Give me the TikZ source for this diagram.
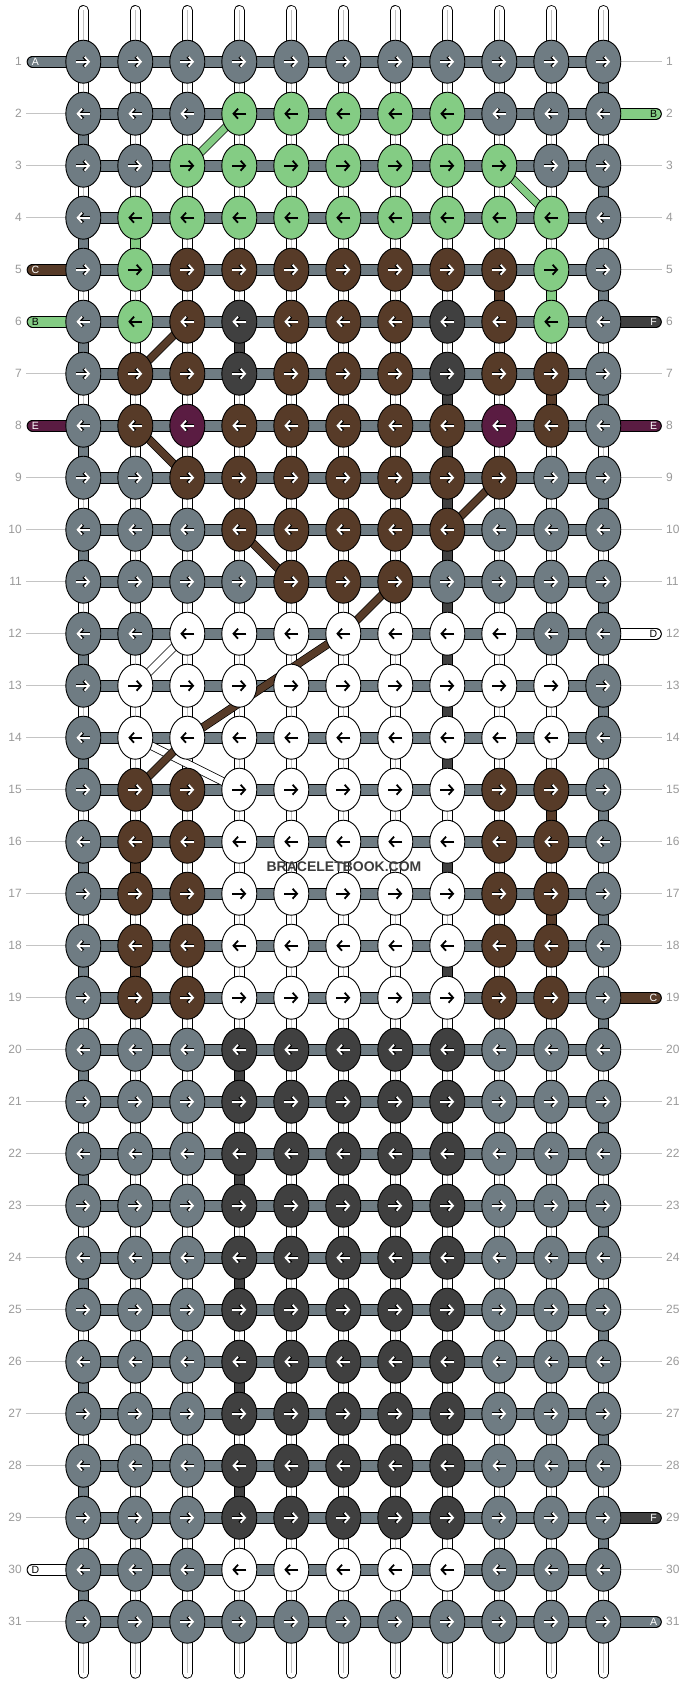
\documentclass[tikz,border=0pt]{standalone}
\usepackage{fontspec}
\setmainfont{Liberation Sans}
\usetikzlibrary{shapes.geometric,arrows.meta}
\definecolor{kG}{HTML}{6F7C83}
\definecolor{kL}{HTML}{84CC84}
\definecolor{kB}{HTML}{573B28}
\definecolor{kK}{HTML}{404040}
\definecolor{kP}{HTML}{5A1C42}
\definecolor{kW}{HTML}{FFFFFF}
\colorlet{aG}{white}\colorlet{aL}{black}\colorlet{aB}{white}
\colorlet{aK}{white}\colorlet{aP}{white}\colorlet{aW}{black}
\colorlet{oG}{black}\colorlet{oL}{kL}\colorlet{oB}{black}
\colorlet{oK}{black}\colorlet{oP}{black}\colorlet{oW}{white}
\definecolor{lbl}{HTML}{9A9A9A}
\definecolor{lnc}{HTML}{C4C4C4}
\definecolor{ctr}{HTML}{C2C2C2}
\definecolor{wmk}{HTML}{3C3C3C}
\begin{document}
\begin{tikzpicture}[x=1pt,y=-1pt,
 knot/.style={ellipse,draw=black,line width=0.9pt,minimum width=35pt,minimum height=43pt,inner sep=0pt},
 hstr/.style={draw=black,line width=1pt,double=#1,double distance=9.7pt},
 vseg/.style={draw=black,line width=0.9pt,double=#1,double distance=8.9pt},
 ctrline/.style={draw=ctr,line width=1.1pt},
 diag/.style={draw=black,line width=0.7pt,double=#1,double distance=7pt,line join=round},
 lead/.style={draw=lnc,line width=1pt},
 rowno/.style={text=lbl,font=\fontsize{12}{12}\selectfont,inner sep=0pt},
 stubtxt/.style={font=\fontsize{10.5}{10.5}\selectfont,inner sep=0pt},
 arrline/.style={line width=#1,-{Straight Barb[length=4.5pt,width=10pt]}}
]
\fill[white] (0,0) rectangle (688,1684);
\useasboundingbox (0,0) rectangle (688,1684);
% grid coordinates
\foreach \r in {1,...,31}{\foreach \c in {1,...,11}{
  \coordinate (p-\r-\c) at ({83.3+52*(\c-1)},{61.7+52*(\r-1)});}}
% leader lines
\foreach \r in {2,3,4,7,9,10,11,12,13,14,15,16,17,18,19,20,21,22,23,24,25,26,27,28,29,31}{
  \pgfmathsetmacro\yy{61.7+52*(\r-1)}
  \coordinate (ll-\r) at (26,\yy);
  \draw[lead] (ll-\r) -- (p-\r-1);}
\foreach \r in {1,3,4,5,7,9,10,11,13,14,15,16,17,18,20,21,22,23,24,25,26,27,28,30}{
  \pgfmathsetmacro\yy{61.7+52*(\r-1)}
  \coordinate (lr-\r) at (662,\yy);
  \draw[lead] (p-\r-11) -- (lr-\r);}
% vertical strands top and bottom
\foreach \c in {1,...,11}{
  \coordinate (t-\c) at ({83.3+52*(\c-1)},10.4);
  \coordinate (b-\c) at ({83.3+52*(\c-1)},1673.3);
  \draw[vseg=white,line cap=round] (t-\c) -- (p-1-\c);
  \draw[ctrline] (t-\c) -- (p-1-\c);
  \draw[vseg=white,line cap=round] (p-31-\c) -- (b-\c);
  \draw[ctrline] (p-31-\c) -- (b-\c);}
% gaps between rows
\foreach \r in {1,...,30}{\pgfmathtruncatemacro\rr{\r+1}
  \foreach \c in {1,...,11}{
    \draw[vseg=white] (p-\r-\c) -- (p-\rr-\c);
    \draw[ctrline] (p-\r-\c) -- (p-\rr-\c);}}
\foreach \r in {1,3,...,29}{\pgfmathtruncatemacro\rr{\r+1}
  \draw[vseg=kG] (p-\r-11) -- (p-\rr-11);}
\foreach \r in {2,4,...,30}{\pgfmathtruncatemacro\rr{\r+1}
  \draw[vseg=kG] (p-\r-1) -- (p-\rr-1);}
\foreach \r/\c/\col in {4/2/L,5/9/B,5/10/L,6/4/K,7/8/K,7/10/B,8/8/K,9/8/K,10/8/K,11/8/K,
  12/8/K,13/8/K,14/8/K,15/10/B,16/2/B,16/8/K,17/10/B,18/2/B,18/8/K,
  20/4/K,22/4/K,24/4/K,26/4/K,28/4/K}{\pgfmathtruncatemacro\rr{\r+1}
  \draw[vseg=k\col] (p-\r-\c) -- (p-\rr-\c);}
% horizontal strands
\foreach \r in {1,...,31}{\draw[hstr=kG] (p-\r-1) -- (p-\r-11);}
% stubs
\foreach \r/\col/\txt/\tc in {1/G/A/white,5/B/C/white,6/L/B/black,8/P/E/white,30/W/D/black}{
  \pgfmathsetmacro\yy{61.7+52*(\r-1)}
  \coordinate (sl-\r) at (32.5,\yy);
  \draw[hstr=k\col,line cap=round] (sl-\r) -- (p-\r-1);
  \node[stubtxt,text=\tc] (slt-\r) at (35.5,\yy) {\txt};}
\foreach \r/\col/\txt/\tc in {2/L/B/black,6/K/F/white,8/P/E/white,12/W/D/black,19/B/C/white,29/K/F/white,31/G/A/white}{
  \pgfmathsetmacro\yy{61.7+52*(\r-1)}
  \coordinate (sr-\r) at (656,\yy);
  \draw[hstr=k\col,line cap=round] (p-\r-11) -- (sr-\r);
  \node[stubtxt,text=\tc] (srt-\r) at (653.5,\yy) {\txt};}
% diagonals
\draw[diag=kL] (p-2-4) -- (p-3-3);
\draw[diag=kL] (p-3-9) -- (p-4-10);
\draw[diag=kB] (p-6-3) -- (p-7-2);
\draw[diag=kB] (p-8-2) -- (p-9-3);
\draw[diag=kB] (p-9-9) -- (p-10-8);
\draw[diag=kB] (p-10-4) -- (p-11-5);
\draw[diag=kW] (p-12-3) -- (p-13-2);
\draw[diag=kW] (p-14-2) -- (p-15-4);
\draw[diag=kB] (p-11-7) -- (p-12-6) -- (p-14-3) -- (p-15-2);
% knots
\foreach \r/\cols in {
 1/{G,G,G,G,G,G,G,G,G,G,G},
 2/{G,G,G,L,L,L,L,L,G,G,G},
 3/{G,G,L,L,L,L,L,L,L,G,G},
 4/{G,L,L,L,L,L,L,L,L,L,G},
 5/{G,L,B,B,B,B,B,B,B,L,G},
 6/{G,L,B,K,B,B,B,K,B,L,G},
 7/{G,B,B,K,B,B,B,K,B,B,G},
 8/{G,B,P,B,B,B,B,B,P,B,G},
 9/{G,G,B,B,B,B,B,B,B,G,G},
 10/{G,G,G,B,B,B,B,B,G,G,G},
 11/{G,G,G,G,B,B,B,G,G,G,G},
 12/{G,G,W,W,W,W,W,W,W,G,G},
 13/{G,W,W,W,W,W,W,W,W,W,G},
 14/{G,W,W,W,W,W,W,W,W,W,G},
 15/{G,B,B,W,W,W,W,W,B,B,G},
 16/{G,B,B,W,W,W,W,W,B,B,G},
 17/{G,B,B,W,W,W,W,W,B,B,G},
 18/{G,B,B,W,W,W,W,W,B,B,G},
 19/{G,B,B,W,W,W,W,W,B,B,G},
 20/{G,G,G,K,K,K,K,K,G,G,G},
 21/{G,G,G,K,K,K,K,K,G,G,G},
 22/{G,G,G,K,K,K,K,K,G,G,G},
 23/{G,G,G,K,K,K,K,K,G,G,G},
 24/{G,G,G,K,K,K,K,K,G,G,G},
 25/{G,G,G,K,K,K,K,K,G,G,G},
 26/{G,G,G,K,K,K,K,K,G,G,G},
 27/{G,G,G,K,K,K,K,K,G,G,G},
 28/{G,G,G,K,K,K,K,K,G,G,G},
 29/{G,G,G,K,K,K,K,K,G,G,G},
 30/{G,G,G,W,W,W,W,W,G,G,G},
 31/{G,G,G,G,G,G,G,G,G,G,G}}{
  \pgfmathsetmacro\ax{ifthenelse(mod(\r,2)==1,-7,7)}
  \pgfmathsetmacro\bx{ifthenelse(mod(\r,2)==1,14,-14)}
  \pgfmathsetmacro\yy{61.7+52*(\r-1)}
  \node[rowno,anchor=east] (nl-\r) at (22,\yy) {\r};
  \node[rowno,anchor=west] (nr-\r) at (666,\yy) {\r};
  \foreach \col [count=\c] in \cols {
    \node[knot,fill=k\col] (k-\r-\c) at (p-\r-\c) {};
    \draw[arrline=3.2pt,draw=o\col] (k-\r-\c.center) ++(\ax,0) -- ++(\bx,0);
    \draw[arrline=1.8pt,draw=a\col] (k-\r-\c.center) ++(\ax,0) -- ++(\bx,0);
  }}
\node[font=\bfseries\fontsize{14}{14}\selectfont,text=wmk,inner sep=0pt] (wm) at (344,867) {BRACELETBOOK.COM};
\end{tikzpicture}
\end{document}
